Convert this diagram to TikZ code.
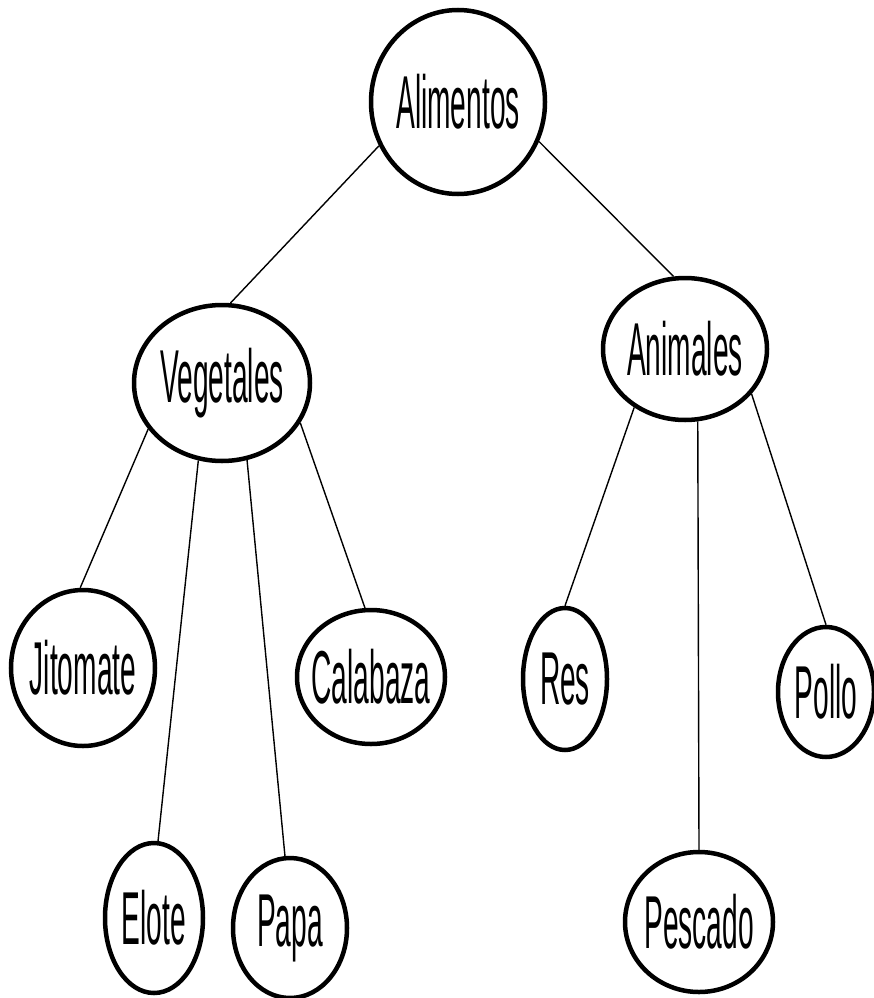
\documentclass[tikz,border=0pt]{standalone}
\usepackage{fontspec}
\newfontfamily\nodefont[FakeStretch=0.375]{Liberation Sans}
\usetikzlibrary{shapes.geometric}
\newcommand{\nlab}[1]{\makebox[0pt]{#1}}
\begin{document}
\begin{tikzpicture}[x=1pt,y=-1pt,
  every node/.style={font=\nodefont\fontsize{75}{80}\selectfont},
  blob/.style={ellipse, draw, line width=4.5pt, inner sep=0pt},
  link/.style={line width=1.4pt}]
\useasboundingbox (0,0) rectangle (874,998);
\node[blob, minimum width=174pt, minimum height=184pt] (ali) at (458,102) {\nlab{Alimentos}};
\node[blob, minimum width=176pt, minimum height=156pt] (veg) at (222,383) {\nlab{Vegetales}};
\node[blob, minimum width=164pt, minimum height=142pt] (ani) at (685,349) {\nlab{Animales}};
\node[blob, minimum width=144pt, minimum height=156pt] (jit) at (83,668) {\nlab{Jitomate}};
\node[blob, minimum width=148pt, minimum height=134pt] (cal) at (371,677) {\nlab{Calabaza}};
\node[blob, minimum width=84pt, minimum height=142pt] (res) at (565,679) {\nlab{Res}};
\node[blob, minimum width=96pt, minimum height=130pt] (pol) at (826,692) {\nlab{Pollo}};
\node[blob, minimum width=98pt, minimum height=150pt] (elo) at (154,918) {\nlab{Elote}};
\node[blob, minimum width=114pt, minimum height=140pt] (pap) at (290,928) {\nlab{Papa}};
\node[blob, minimum width=148pt, minimum height=140pt] (pes) at (699,922) {\nlab{Pescado}};
\draw[link] (ali.209) -- (veg.84);
\draw[link] (ali.334) -- (ani.99);
\draw[link] (veg.212) -- (jit.92);
\draw[link] (veg.253) -- (elo.87);
\draw[link] (veg.288) -- (pap.94);
\draw[link] (veg.333) -- (cal.95);
\draw[link] (ani.229) -- (res.90);
\draw[link] (ani.280) -- (pes.north);
\draw[link] (ani.326) -- (pol.90);
\end{tikzpicture}
\end{document}
